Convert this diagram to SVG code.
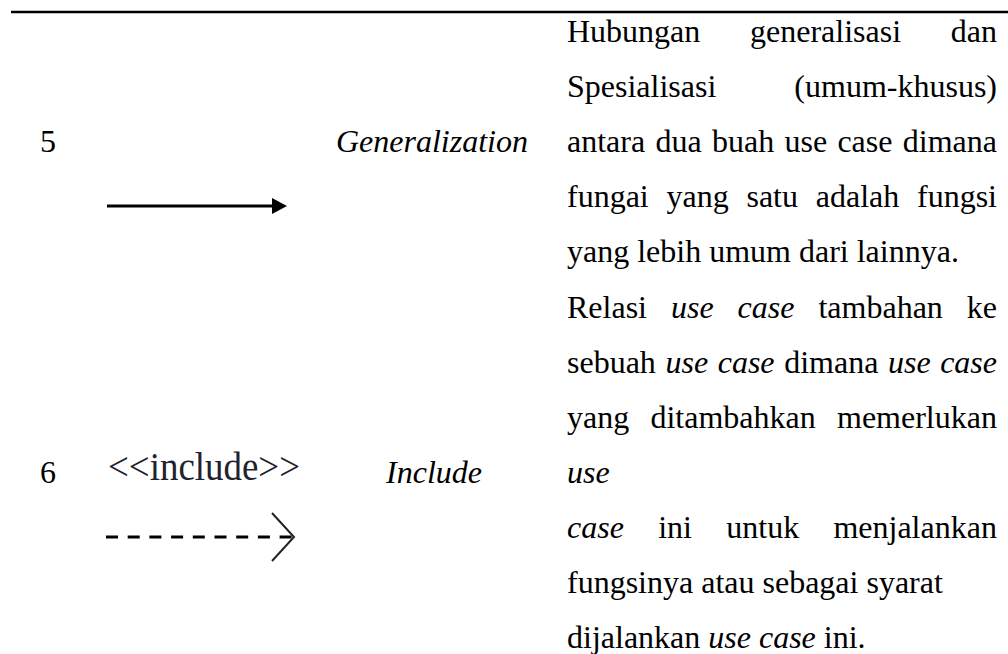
<svg xmlns="http://www.w3.org/2000/svg" width="1008" height="654" viewBox="0 0 1008 654">
  <style>
    .t { font-family: "Liberation Serif", "Times New Roman", serif; font-size: 32px; fill: #000; }
    .i { font-style: italic; }
    .st { font-family: "Liberation Serif", "Times New Roman", serif; font-size: 40px; fill: #22222e; }
    .rule { stroke: #000; stroke-width: 2.5; }
    .gen { stroke: #000; stroke-width: 3; fill: none; }
    .dep { stroke: #000; stroke-width: 3; fill: none; stroke-dasharray: 12 9.7; }
  </style>
  <defs>
    <marker id="head-solid" markerUnits="userSpaceOnUse" viewBox="0 0 15 16" refX="0" refY="8" markerWidth="15" markerHeight="16" orient="auto">
      <path d="M0,0 L15,8 L0,16 Z" fill="#000"/>
    </marker>
    <marker id="head-open" markerUnits="userSpaceOnUse" viewBox="-2 -2 26 52" refX="22" refY="24" markerWidth="26" markerHeight="52" orient="auto">
      <path d="M0,0 L22,24 L0,48" fill="none" stroke="#222" stroke-width="2"/>
    </marker>
  </defs>

  <!-- table rule -->
  <line class="rule" x1="11" y1="12" x2="1008" y2="12"/>

  <!-- row 5: generalization -->
  <g id="row-generalization">
    <text class="t" x="40" y="152.2">5</text>
    <text class="t i" x="432" y="152.2" text-anchor="middle">Generalization</text>
    <text class="t" x="567" y="42" style="word-spacing:41.7px">Hubungan generalisasi dan</text>
    <text class="t" x="567" y="97.1" style="word-spacing:70px">Spesialisasi (umum-khusus)</text>
    <text class="t" x="567" y="152.2" style="word-spacing:2.3px">antara dua buah use case dimana</text>
    <text class="t" x="567" y="207.3" style="word-spacing:9.75px">fungai yang satu adalah fungsi</text>
    <text class="t" x="567" y="262.4">yang lebih umum dari lainnya.</text>
  </g>

  <!-- row 6: include -->
  <g id="row-include">
    <text class="t" x="40" y="482.8">6</text>
    <text class="st" x="108" y="480" textLength="192" lengthAdjust="spacingAndGlyphs">&lt;&lt;include&gt;&gt;</text>
    <text class="t i" x="434" y="482.8" text-anchor="middle">Include</text>
    <text class="t" x="567" y="317.5" style="word-spacing:15.97px">Relasi <tspan class="i">use case</tspan> tambahan ke</text>
    <text class="t" x="567" y="372.6" style="word-spacing:1.58px">sebuah <tspan class="i">use case</tspan> dimana <tspan class="i">use case</tspan></text>
    <text class="t" x="567" y="427.7" style="word-spacing:13.25px">yang ditambahkan memerlukan</text>
    <text class="t i" x="567" y="482.8">use</text>
    <text class="t" x="567" y="537.9" style="word-spacing:26.3px"><tspan class="i">case</tspan> ini untuk menjalankan</text>
    <text class="t" x="567" y="593">fungsinya atau sebagai syarat</text>
    <text class="t" x="567" y="648.1">dijalankan <tspan class="i">use case</tspan> ini.</text>
  </g>

  <!-- notation arrows -->
  <g id="connectors">
    <line class="gen" x1="107" y1="206" x2="272" y2="206" marker-end="url(#head-solid)"/>
    <line class="dep" x1="106" y1="537" x2="294" y2="537" marker-end="url(#head-open)"/>
  </g>
</svg>
